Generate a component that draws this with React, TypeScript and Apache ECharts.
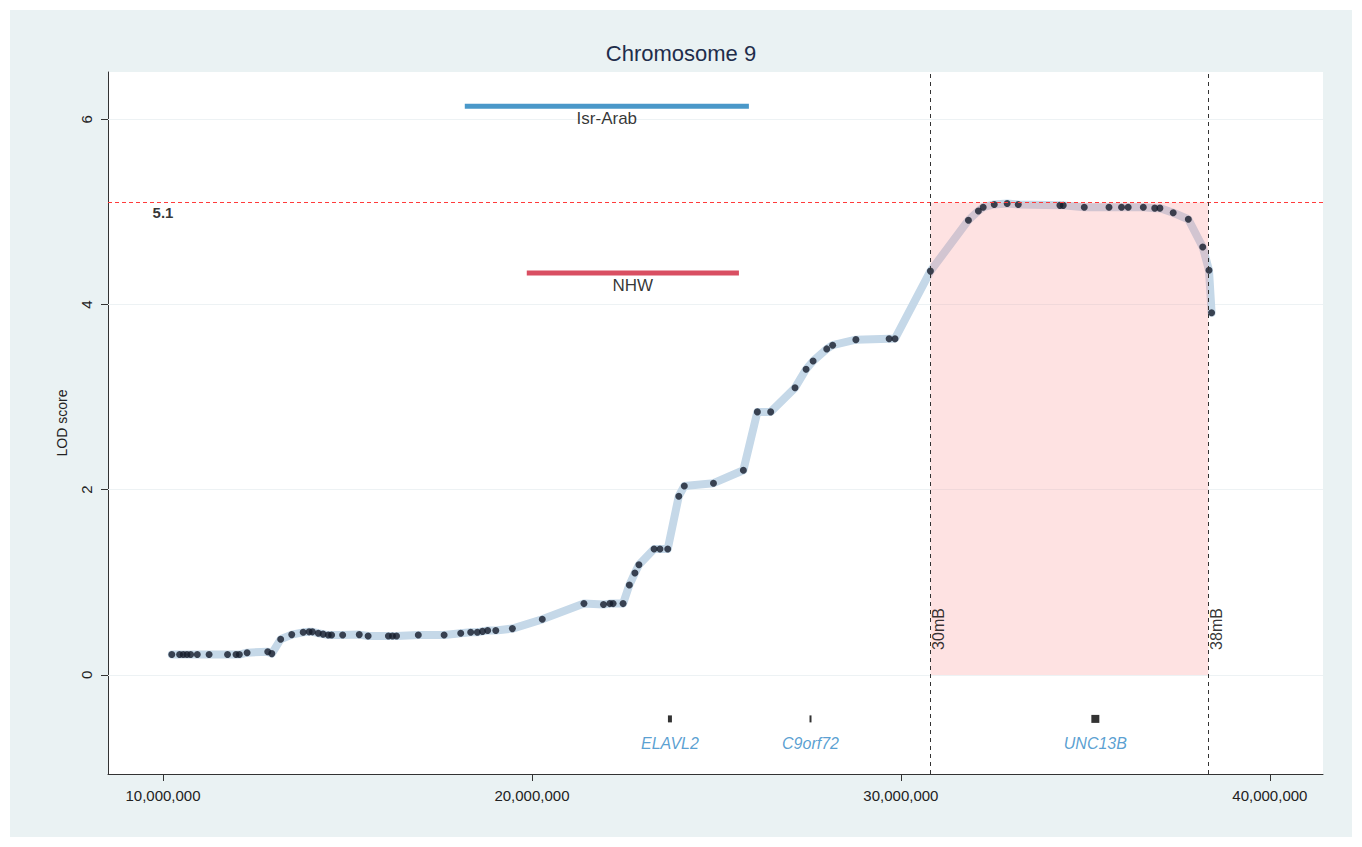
import React, { useEffect, useRef } from 'react';
import * as echarts from 'echarts';

// Marker positions (bp) and LOD scores on chromosome 9
const positions = [
  10.24e6, 10.45e6, 10.55e6, 10.65e6, 10.75e6, 10.93e6, 11.25e6, 11.75e6, 11.98e6, 12.07e6,
  12.28e6, 12.84e6, 12.95e6, 13.19e6, 13.49e6, 13.8e6, 13.96e6, 14.05e6, 14.21e6, 14.34e6,
  14.48e6, 14.57e6, 14.87e6, 15.32e6, 15.56e6, 16.11e6, 16.22e6, 16.33e6, 16.92e6, 17.62e6,
  18.07e6, 18.34e6, 18.52e6, 18.66e6, 18.8e6, 19.02e6, 19.47e6, 20.28e6, 21.41e6, 21.94e6,
  22.11e6, 22.2e6, 22.47e6, 22.64e6, 22.79e6, 22.9e6, 23.31e6, 23.47e6, 23.68e6, 23.98e6,
  24.13e6, 24.92e6, 25.73e6, 26.11e6, 26.47e6, 27.13e6, 27.43e6, 27.62e6, 27.99e6, 28.15e6,
  28.78e6, 29.68e6, 29.84e6, 30.8e6, 31.83e6, 32.1e6, 32.23e6, 32.53e6, 32.88e6, 33.18e6,
  34.31e6, 34.4e6, 34.97e6, 35.64e6, 35.98e6, 36.16e6, 36.57e6, 36.88e6, 37.02e6, 37.38e6,
  37.79e6, 38.18e6, 38.35e6, 38.42e6,
];
const lodScores = [
  0.22, 0.22, 0.22, 0.22, 0.22, 0.22, 0.22, 0.22, 0.22, 0.22,
  0.24, 0.25, 0.23, 0.385, 0.435, 0.46, 0.465, 0.465, 0.45, 0.44,
  0.43, 0.43, 0.43, 0.435, 0.42, 0.42, 0.42, 0.42, 0.43, 0.43,
  0.45, 0.46, 0.46, 0.47, 0.48, 0.48, 0.5, 0.6, 0.77, 0.76,
  0.77, 0.77, 0.77, 0.97, 1.1, 1.19, 1.36, 1.36, 1.36, 1.93,
  2.04, 2.07, 2.21, 2.84, 2.84, 3.1, 3.3, 3.39, 3.52, 3.56,
  3.62, 3.63, 3.63, 4.36, 4.91, 5.01, 5.05, 5.08, 5.09, 5.08,
  5.07, 5.07, 5.05, 5.05, 5.05, 5.05, 5.05, 5.04, 5.04, 4.99,
  4.92, 4.62, 4.37, 3.91,
];

// Linkage intervals from two populations
const intervalNames = ['Isr-Arab', 'NHW'];
const intervalStarts = [18.18e6, 19.86e6];
const intervalEnds = [25.88e6, 25.61e6];
const intervalLods = [6.14, 4.34];
const intervalColors = ['#4A98C9', '#D94F62'];

// Genes
const geneNames = ['ELAVL2', 'C9orf72', 'UNC13B'];
const genePositions = [23.74e6, 27.55e6, 35.27e6];
const geneLod = -0.475;

// Threshold and region
const threshold = 5.1;
const regionBounds = [30.8e6, 38.33e6];
const regionLabels = ['30mB', '38mB'];
const regionLabelLod = 0.27;

// Axes
const xMin = 8.51e6;
const xMax = 41.44e6;
const xTicks = [10e6, 20e6, 30e6, 40e6];
const yMin = -1.07;
const yMax = 6.51;
const yTicks = [0, 2, 4, 6];

const FONT = '"Liberation Sans", Arial, sans-serif';

export default function App() {
  const ref = useRef<HTMLDivElement>(null);
  useEffect(() => {
    const chart = echarts.init(ref.current!, null, { renderer: 'svg' });
    const curve = positions.map((p, i) => [p, lodScores[i]]);
    const series: any[] = [
      {
        type: 'line',
        name: 'grid',
        data: [],
        silent: true,
        z: 1,
        markLine: {
          z: 1,
          silent: true,
          symbol: 'none',
          label: { show: false },
          lineStyle: { color: '#EDF2F4', width: 1, type: 'solid' },
          data: yTicks.map((t) => ({ yAxis: t })),
        },
      },
      {
        type: 'line',
        name: 'LOD line',
        data: curve,
        showSymbol: false,
        symbol: 'none',
        z: 2,
        lineStyle: { color: '#C5D8E8', width: 8, cap: 'round', join: 'round' },
      },
      {
        type: 'line',
        name: 'region',
        data: [],
        z: 3,
        silent: true,
        markArea: {
          z: 3,
          silent: true,
          itemStyle: { color: 'rgba(250,140,140,0.25)' },
          data: [[{ xAxis: regionBounds[0], yAxis: 0 }, { xAxis: regionBounds[1], yAxis: threshold }]],
        },
      },
      {
        type: 'scatter',
        name: 'markers',
        data: curve,
        z: 4,
        symbol: 'circle',
        symbolSize: 7,
        itemStyle: { color: '#141C2A' },
      },
      {
        type: 'line',
        name: 'lines',
        data: [],
        z: 5,
        silent: true,
        markLine: {
          z: 5,
          silent: true,
          symbol: 'none',
          label: { show: false },
          data: [
            { yAxis: threshold, lineStyle: { color: '#FF3B3B', width: 1, type: [4, 3] } },
            ...regionBounds.map((b) => ({ xAxis: b, lineStyle: { color: '#333', width: 1, type: [4, 4] } })),
          ],
        },
      },
      {
        type: 'scatter',
        name: 'threshold label',
        z: 6,
        symbolSize: 0,
        data: [[10e6, threshold]],
        label: {
          show: true,
          position: 'bottom',
          distance: 2,
          formatter: String(threshold),
          fontFamily: FONT,
          fontSize: 15,
          fontWeight: 'bold',
          color: '#000',
        },
      },
      {
        type: 'scatter',
        name: 'region labels',
        z: 6,
        symbolSize: 0,
        data: regionBounds.map((b, i) => ({ value: [b, regionLabelLod], label: { formatter: regionLabels[i] } })),
        label: {
          show: true,
          position: 'right',
          distance: 8,
          rotate: 90,
          fontFamily: FONT,
          fontSize: 16,
          color: '#000',
        },
      },
      ...intervalNames.map((n, i) => ({
        type: 'line',
        name: n,
        z: 6,
        symbol: 'none',
        data: [[intervalStarts[i], intervalLods[i]], [intervalEnds[i], intervalLods[i]]],
        lineStyle: { color: intervalColors[i], width: 5 },
      })),
      {
        type: 'scatter',
        name: 'interval labels',
        z: 6,
        symbolSize: 0,
        data: intervalNames.map((n, i) => ({
          value: [(intervalStarts[i] + intervalEnds[i]) / 2, intervalLods[i]],
          label: { formatter: n },
        })),
        label: {
          show: true,
          position: 'bottom',
          distance: 4,
          fontFamily: FONT,
          fontSize: 17,
          color: '#000',
        },
      },
      {
        type: 'scatter',
        name: 'genes',
        z: 6,
        symbol: 'rect',
        data: geneNames.map((g, i) => ({
          value: [genePositions[i], geneLod],
          symbolSize: i === 0 ? [4, 7] : i === 1 ? [2, 7] : [8, 8],
          label: { formatter: g },
        })),
        itemStyle: { color: '#000' },
        label: {
          show: true,
          position: 'bottom',
          distance: 13,
          fontFamily: FONT,
          fontSize: 16,
          fontStyle: 'italic',
          color: '#2F87C6',
        },
      },
    ];

    chart.setOption({
      animation: false,
      backgroundColor: '#ffffff',
      graphic: [
        {
          type: 'rect',
          z: -10,
          shape: { x: 10, y: 10, width: 1342, height: 827 },
          style: { fill: '#EAF2F3' },
          silent: true,
        },
      ],
      title: {
        text: 'Chromosome 9',
        left: 'center',
        top: 37,
        textStyle: { fontFamily: FONT, fontSize: 22, fontWeight: 'normal', color: '#1F2D4B' },
      },
      grid: {
        left: 108,
        right: 39,
        top: 72,
        bottom: 73,
        show: true,
        backgroundColor: '#ffffff',
        borderWidth: 0,
        containLabel: false,
      },
      xAxis: {
        type: 'value',
        min: xMin,
        max: xMax,
        axisLine: { show: true, onZero: false, lineStyle: { color: '#333', width: 1 } },
        axisTick: { show: true, length: 7, customValues: xTicks, lineStyle: { color: '#333' } },
        axisLabel: {
          customValues: xTicks,
          margin: 14,
          fontFamily: FONT,
          fontSize: 15,
          color: '#222',
          formatter: (v: number) => v.toLocaleString('en-US'),
        },
        splitLine: { show: false },
      },
      yAxis: {
        type: 'value',
        min: yMin,
        max: yMax,
        name: 'LOD score',
        nameLocation: 'middle',
        nameRotate: 90,
        nameGap: 39,
        nameTextStyle: { fontFamily: FONT, fontSize: 14, color: '#222' },
        axisLine: { show: true, onZero: false, lineStyle: { color: '#333', width: 1 } },
        axisTick: { show: true, length: 7, customValues: yTicks, lineStyle: { color: '#333' } },
        axisLabel: {
          customValues: yTicks,
          rotate: 90,
          margin: 14,
          fontFamily: FONT,
          fontSize: 15,
          color: '#222',
        },
        splitLine: { show: false },
      },
      series,
    });
    return () => chart.dispose();
  }, []);
  return <div ref={ref} style={{ position: 'fixed', left: 0, top: 0, width: 1362, height: 847 }} />;
}
